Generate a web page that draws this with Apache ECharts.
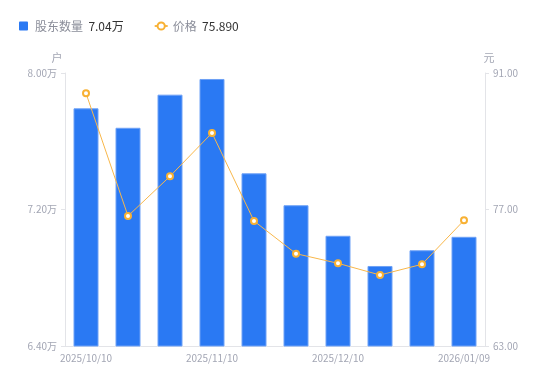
<!DOCTYPE html>
<html><head><meta charset="utf-8">
<script src="https://cdn.jsdelivr.net/npm/echarts@6/dist/echarts.min.js"></script>
<style>html,body{margin:0;padding:0;background:#fff}#c{width:550px;height:381px}</style>
</head><body><div id="c"></div>
<script>
const categories = ['2025/10/10','2025/10/17','2025/10/24','2025/11/10','2025/11/14','2025/11/21','2025/12/10','2025/12/19','2025/12/31','2026/01/09'];
const holders = [7.793, 7.679, 7.873, 7.965, 7.412, 7.225, 7.046, 6.869, 6.961, 7.04];
const prices = [88.92, 76.33, 80.41, 84.85, 75.82, 72.47, 71.48, 70.28, 71.38, 75.89];
const leftTicks = [6.40, 7.20, 8.00];
const rightTicks = [63.00, 77.00, 91.00];
const labelIdx = [0, 3, 6, 9];

const chart = echarts.init(document.getElementById('c'));
const axisLabelColor = '#a3a6b4';
const axisLineColor = '#e3e4e8';
chart.setOption({
  animation: false,
  textStyle: {fontFamily: '"Noto Sans CJK SC", "Noto Sans", sans-serif'},
  legend: {
    left: 14, top: 15, itemGap: 30, itemWidth: 13, itemHeight: 9,
    data: [
      {name: '股东数量', icon: 'path://M1,0H9Q10,0 10,1V9Q10,10 9,10H1Q0,10 0,9V1Q0,0 1,0Z',
       itemStyle: {borderWidth: 0, color: '#2a79f3'}},
      {name: '价格'}
    ],
    formatter: function (n) {
      return n === '股东数量' ? '{a|股东数量}  {b|' + holders[holders.length-1].toFixed(2) + '万}'
                            : '{a|价格}  {b|' + prices[prices.length-1].toFixed(3) + '}';
    },
    textStyle: {rich: {a: {color: '#8a8d99', fontSize: 12}, b: {color: '#333', fontSize: 12}}}
  },
  grid: {left: 65, right: 65, top: 73, bottom: 35},
  xAxis: {
    type: 'category', data: categories,
    axisLine: {lineStyle: {color: axisLineColor}},
    axisTick: {show: false},
    axisLabel: {color: axisLabelColor, fontSize: 10, margin: 7,
      interval: function (i) { return labelIdx.indexOf(i) >= 0; }}
  },
  yAxis: [
    {type: 'value', name: '户', min: leftTicks[0], max: leftTicks[2], interval: 0.8,
     nameTextStyle: {color: axisLabelColor, fontSize: 11, padding: [0, 16, 0, 0]}, nameGap: 10,
     axisLine: {show: true, lineStyle: {color: axisLineColor}},
     axisTick: {show: true, length: 4, lineStyle: {color: axisLineColor}},
     splitLine: {show: false},
     axisLabel: {color: axisLabelColor, fontSize: 10, margin: 8, formatter: v => v.toFixed(2) + '万'}},
    {type: 'value', name: '元', min: rightTicks[0], max: rightTicks[2], interval: 14,
     nameTextStyle: {color: axisLabelColor, fontSize: 11, padding: [0, 0, 0, 8]}, nameGap: 10,
     axisLine: {show: true, lineStyle: {color: axisLineColor}},
     axisTick: {show: true, length: 4, lineStyle: {color: axisLineColor}},
     splitLine: {show: false},
     axisLabel: {color: axisLabelColor, fontSize: 10, margin: 8, formatter: v => v.toFixed(2)}}
  ],
  series: [
    {name: '股东数量', type: 'bar', data: holders, yAxisIndex: 0, barWidth: 25,
     itemStyle: {color: '#2a79f3', borderColor: '#6fa2f6', borderWidth: 1}},
    {name: '价格', type: 'line', data: prices, yAxisIndex: 1,
     symbol: 'emptyCircle', symbolSize: 6,
     lineStyle: {color: '#f8b74a', width: 1},
     itemStyle: {color: '#f8b133', borderWidth: 2}}
  ]
});
</script></body></html>
